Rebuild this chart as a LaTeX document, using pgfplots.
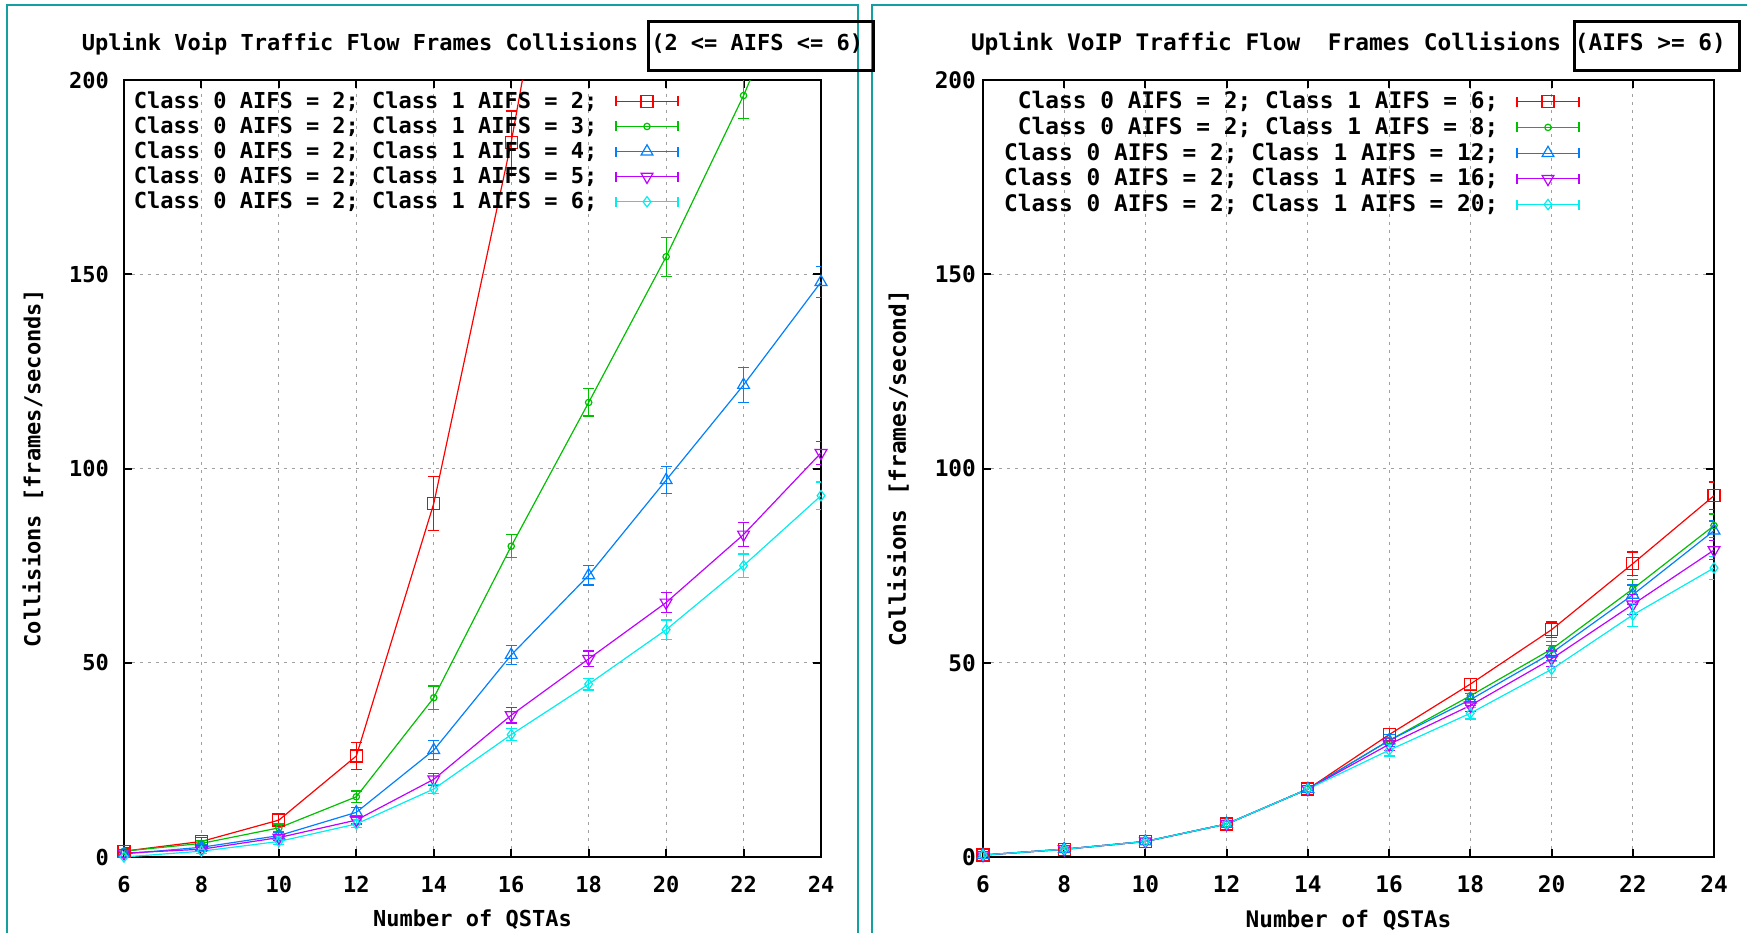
\documentclass[border=0pt]{standalone}
\usepackage{pgfplots}
\pgfplotsset{compat=1.18}
\usepackage{fontspec}
\setmainfont{DejaVu Sans Mono}
\definecolor{gpred}{RGB}{255,0,0}
\definecolor{gpgreen}{RGB}{0,192,0}
\definecolor{gpblue}{RGB}{0,128,255}
\definecolor{gppurple}{RGB}{192,0,255}
\definecolor{gpcyan}{RGB}{0,238,238}
\definecolor{frameteal}{RGB}{20,160,160}
\definecolor{gridgray}{RGB}{160,160,160}

\pgfplotsset{
  gpstyle/.style={
    scale only axis, height=388.5pt,
    xmin=6, xmax=24, ymin=0, ymax=200,
    xtick={6,8,...,24}, ytick={0,50,100,150,200},
    tick align=inside, major tick length=4pt,
    axis line style={line width=1pt},
    every tick/.style={black, line width=1pt},
    grid=major,
    major grid style={gridgray, line width=0.6pt, dash pattern=on 1.5pt off 2.5pt},
    /pgf/number format/assume math mode=true,
    xticklabel shift=6pt,
    clip=true,
    legend plot pos=right,
    legend cell align=right,
    legend style={draw=none, fill=none, inner sep=0pt, row sep=1.7pt, column sep=8.5pt,
      nodes={inner sep=0.5pt}},
    legend image code/.code={
      \draw[mark repeat=2,mark phase=2,##1] plot coordinates {(0pt,0pt) (15.5pt,0pt) (31pt,0pt)};
      \draw[##1,mark=none] (0pt,-2.5pt) -- (0pt,2.5pt) (31pt,-2.5pt) -- (31pt,2.5pt);
    },
    every axis plot/.append style={line width=0.6pt},
    error bars/y dir=both, error bars/y explicit,
    error bars/error mark options={rotate=90, mark size=2.75pt, line width=0.6pt},
    xlabel={Number of QSTAs},
    xlabel style={at={(axis description cs:0.5,-0.0811)}, anchor=center},
    title style={at={(axis description cs:0.5,1)}, anchor=center, yshift=12pt},
  },
  sred/.style={gpred, mark=square, mark size=3pt, mark options={solid}},
  sgreen/.style={gpgreen, mark=o, mark size=1.6pt, mark options={solid}},
  sblue/.style={gpblue, mark=triangle, mark size=3.4pt, mark options={solid}},
  spurple/.style={gppurple, mark=triangle, mark size=3.4pt, mark options={solid, rotate=180}},
  scyan/.style={gpcyan, mark=diamond, mark size=2.6pt, mark options={solid}},
}

\begin{document}
\begin{tikzpicture}[font=\bfseries\fontsize{11}{13}\selectfont]
% panel frames
\draw[frameteal, line width=1pt] (3.65pt,0pt) -- (3.65pt,464pt) -- (428.85pt,464pt) -- (428.85pt,0pt);
\draw[frameteal, line width=1pt] (435.85pt,0pt) -- (435.85pt,464pt) -- (873.5pt,464pt);

\begin{scope}
\begin{axis}[gpstyle, at={(62pt,38pt)}, anchor=south west, width=348.5pt,
  yticklabel shift=4pt,
  title={Uplink Voip Traffic Flow Frames Collisions (2 <= AIFS <= 6)},
  ylabel={Collisions [frames/seconds]},
  ylabel style={at={(axis description cs:-0.1306,0.5)}, anchor=center},
  legend style={at={(axis description cs:0.7963,0.987)}, anchor=north east},
]
\addplot[sred] coordinates {
 (6,1.5) +- (0,0.8) (8,4) +- (0,1) (10,9.5) +- (0,1.5) (12,26) +- (0,3.5)
 (14,91) +- (0,7) (16,184) +- (0,8) (18,295) +- (0,10)};
\addlegendentry{Class 0 AIFS = 2; Class 1 AIFS = 2;}
\addplot[sgreen] coordinates {
 (6,1.5) +- (0,0.5) (8,3.5) +- (0,0.8) (10,7.5) +- (0,1) (12,15.5) +- (0,1.5)
 (14,41) +- (0,3) (16,80) +- (0,3) (18,117) +- (0,3.5) (20,154.5) +- (0,5)
 (22,196) +- (0,6) (24,243) +- (0,7)};
\addlegendentry{Class 0 AIFS = 2; Class 1 AIFS = 3;}
\addplot[sblue] coordinates {
 (6,0.8) +- (0,0.4) (8,2.5) +- (0,0.6) (10,5.5) +- (0,0.8) (12,11.5) +- (0,1.2)
 (14,27.5) +- (0,2.5) (16,52) +- (0,2.5) (18,72.5) +- (0,2.5) (20,97) +- (0,3.5)
 (22,121.5) +- (0,4.5) (24,148) +- (0,4)};
\addlegendentry{Class 0 AIFS = 2; Class 1 AIFS = 4;}
\addplot[spurple] coordinates {
 (6,1) +- (0,0.4) (8,2) +- (0,0.5) (10,5) +- (0,0.8) (12,9.5) +- (0,1)
 (14,20) +- (0,1.5) (16,36.5) +- (0,2) (18,51) +- (0,2) (20,65.5) +- (0,2.5)
 (22,83) +- (0,3) (24,104) +- (0,3)};
\addlegendentry{Class 0 AIFS = 2; Class 1 AIFS = 5;}
\addplot[scyan] coordinates {
 (6,0) +- (0,0.3) (8,1.5) +- (0,0.5) (10,4) +- (0,0.7) (12,8.5) +- (0,1)
 (14,17.5) +- (0,1.2) (16,31.5) +- (0,1.5) (18,44.5) +- (0,1.5) (20,58.5) +- (0,2.5)
 (22,75) +- (0,3) (24,93) +- (0,3.5)};
\addlegendentry{Class 0 AIFS = 2; Class 1 AIFS = 6;}
\end{axis}
\end{scope}

\begin{scope}[font=\bfseries\fontsize{11.4}{13}\selectfont]
\begin{axis}[gpstyle, at={(491.5pt,38pt)}, anchor=south west, width=365.5pt,
  yticklabel shift=0pt,
  title={Uplink VoIP Traffic Flow\ \ Frames Collisions (AIFS >= 6)},
  ylabel={Collisions [frames/second]},
  ylabel style={at={(axis description cs:-0.1163,0.5)}, anchor=center},
  legend style={at={(axis description cs:0.8167,0.987)}, anchor=north east},
]
\addplot[sred] coordinates {
 (6,0.5) +- (0,0.3) (8,2) +- (0,0.5) (10,4) +- (0,0.7) (12,8.5) +- (0,0.8)
 (14,17.5) +- (0,1) (16,31.5) +- (0,1.5) (18,44.5) +- (0,1.5) (20,58.5) +- (0,2)
 (22,75.5) +- (0,3) (24,93) +- (0,3.5)};
\addlegendentry{Class 0 AIFS = 2; Class 1 AIFS = 6;}
\addplot[sgreen] coordinates {
 (6,0.5) +- (0,0.3) (8,2) +- (0,0.5) (10,4) +- (0,0.7) (12,8.5) +- (0,0.8)
 (14,17.5) +- (0,1) (16,30) +- (0,1.5) (18,41.5) +- (0,1.5) (20,53.5) +- (0,2)
 (22,69) +- (0,2.5) (24,85.3) +- (0,3)};
\addlegendentry{Class 0 AIFS = 2; Class 1 AIFS = 8;}
\addplot[sblue] coordinates {
 (6,0.5) +- (0,0.3) (8,2) +- (0,0.5) (10,4) +- (0,0.7) (12,8.5) +- (0,0.8)
 (14,17.5) +- (0,1) (16,30) +- (0,1.5) (18,40.5) +- (0,1.5) (20,52.5) +- (0,2)
 (22,67.5) +- (0,2.5) (24,84) +- (0,2.5)};
\addlegendentry{Class 0 AIFS = 2; Class 1 AIFS = 12;}
\addplot[spurple] coordinates {
 (6,0.5) +- (0,0.3) (8,2) +- (0,0.5) (10,4) +- (0,0.7) (12,8.5) +- (0,0.8)
 (14,17.5) +- (0,1) (16,29) +- (0,1.5) (18,39) +- (0,1.5) (20,51) +- (0,2)
 (22,65) +- (0,2.5) (24,79) +- (0,2.5)};
\addlegendentry{Class 0 AIFS = 2; Class 1 AIFS = 16;}
\addplot[scyan] coordinates {
 (6,0.5) +- (0,0.3) (8,2) +- (0,0.5) (10,4) +- (0,0.7) (12,8.5) +- (0,0.8)
 (14,17.5) +- (0,1) (16,27.5) +- (0,1.5) (18,37) +- (0,1.5) (20,48.3) +- (0,2)
 (22,62.3) +- (0,3) (24,74.4) +- (0,3)};
\addlegendentry{Class 0 AIFS = 2; Class 1 AIFS = 20;}
\end{axis}
\end{scope}

% boxes around the title parts
\draw[black, line width=1.5pt] (324pt,431pt) rectangle (436.5pt,455.65pt);
\draw[black, line width=1.5pt] (787pt,431pt) rectangle (869.5pt,455.65pt);

\pgfresetboundingbox
\path[use as bounding box] (0pt,0pt) rectangle (873.5pt,466.5pt);
\end{tikzpicture}
\end{document}
